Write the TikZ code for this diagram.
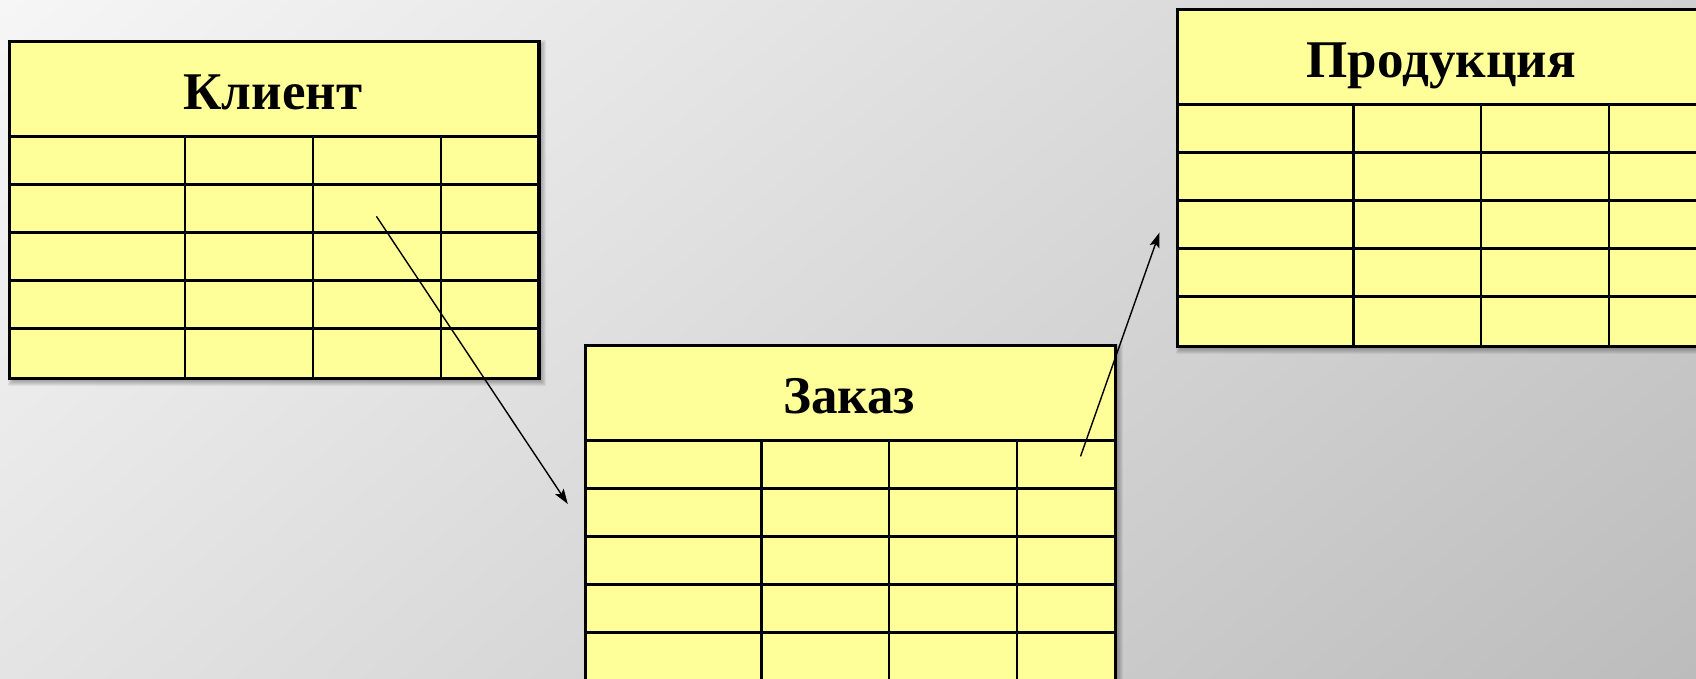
\documentclass[tikz,border=0pt]{standalone}
\usepackage{fontspec}
\setmainfont{Liberation Serif}
\usetikzlibrary{arrows.meta,shadings}
\definecolor{cellyellow}{HTML}{FFFF99}
\definecolor{bgul}{RGB}{246,246,246}
\definecolor{bgur}{RGB}{208,208,208}
\definecolor{bgll}{RGB}{228,228,228}
\definecolor{bglr}{RGB}{188,188,188}
\tikzset{
  tblframe/.style={draw=black, line width=2.4pt, fill=cellyellow, inner sep=0pt,
    anchor=north west, minimum width=528.5pt, minimum height=335.5pt},
  gridline/.style={line width=2.2pt},
  tbltitle/.style={anchor=base, font=\fontsize{53}{60}\selectfont\bfseries, inner sep=0pt},
  link/.style={line width=1.4pt, -{Stealth[length=15pt,width=10pt,inset=3pt]}},
  shadowlayer/.style={fill=black, opacity=0.055},
}
\newcommand{\dbtable}[4]{%
  \begin{scope}[shift={(#2,#3)}]
    \foreach \k in {0,...,5}
      \fill[shadowlayer] (4-\k,4-\k) rectangle (532.5+\k,339.5+\k);
    \node[tblframe] (#1) at (0,0) {};
    \foreach \yy in {95.5,143.5,191.5,239.5,287.5}
      \draw[gridline] (0,\yy) -- (528.5,\yy);
    \foreach \xx in {176.5,304,432}
      \draw[gridline] (\xx,95.5) -- (\xx,335.5);
    \draw[line width=2.4pt] (#1.north west) rectangle (#1.south east);
    \node[tbltitle] (#1-title) at (264.25,68) {#4};
  \end{scope}}
\begin{document}
\begin{tikzpicture}[x=1pt,y=-1pt]
  \useasboundingbox (0,0) rectangle (1696,678);
  \clip (0,0) rectangle (1696,678);
  \shade[upper left=bgul, upper right=bgur, lower left=bgll, lower right=bglr]
    (0,0) rectangle (1696,678);
  \dbtable{klient}{8.7}{41}{Клиент}
  \dbtable{produkt}{1177}{9}{Продукция}
  \dbtable{zakaz}{585}{345}{Заказ}
  \coordinate (a1s) at (376.4,216.3);
  \coordinate (a1e) at (567.8,504);
  \coordinate (a2s) at (1080.5,456.4);
  \coordinate (a2e) at (1159.5,232.5);
  \draw[link] (a1s) -- (a1e);
  \draw[link] (a2s) -- (a2e);
\end{tikzpicture}
\end{document}
